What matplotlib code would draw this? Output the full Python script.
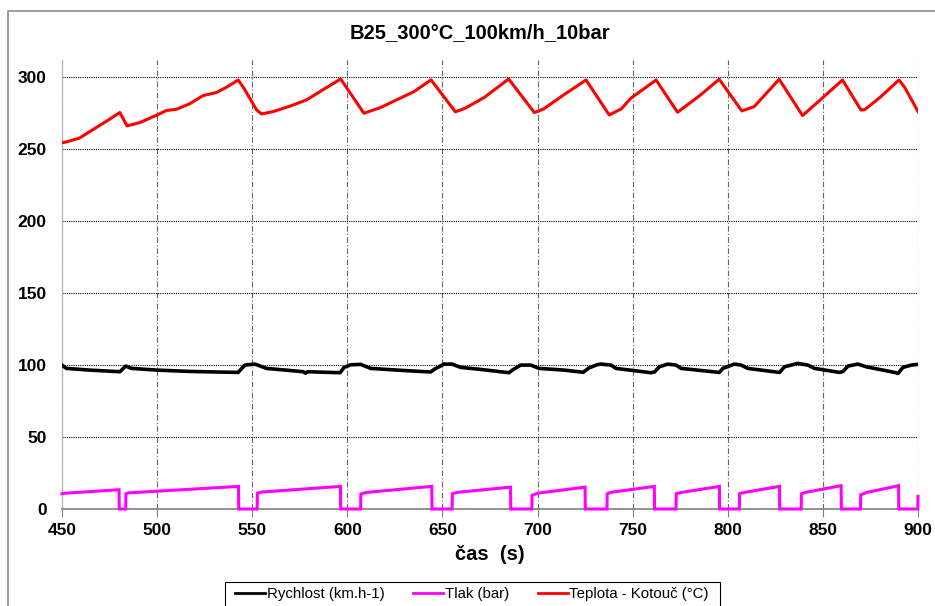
import numpy as np
import matplotlib
matplotlib.use('Agg')
import matplotlib.pyplot as plt
from matplotlib.patches import Rectangle
from matplotlib.lines import Line2D

plt.rcParams['font.family'] = ['Liberation Sans', 'DejaVu Sans']

# Teplota - Kotouč (°C)
t_teplota = [450, 452, 459, 466, 474, 480.4, 484.2, 490.9, 500, 504.9, 510.2, 517, 524.2,
             531.2, 536.5, 542.6, 545.3, 552.3, 554.9, 561.1, 570, 578.6, 588, 596.5,
             608.7, 617.5, 627, 635, 644, 656.8, 662, 672, 684.8, 698.3, 703, 714,
             725.5, 737.7, 744, 749, 762.3, 773.6, 785, 795.5, 807.4, 813.9, 827,
             839.3, 849, 852.5, 860.3, 870, 872, 880, 890, 893, 900]
teplota = [254.5, 255, 257.6, 263.4, 270, 275.5, 266.2, 268.5, 273.8, 276.9, 277.8, 281.5, 287.3,
           289.4, 293.1, 298.1, 293.1, 277.3, 274.5, 276.2, 280, 284.3, 292, 298.8,
           275, 279, 285, 290, 298.2, 276, 278.5, 286, 298.8, 275.5, 277.8, 288,
           298.1, 273.8, 278, 285.4, 298.1, 275.7, 287, 298.6, 276.6, 279.6, 298.6,
           273.4, 284.7, 288.9, 298.1, 277.3, 277.5, 286, 298.1, 293, 276.2]

# Rychlost (km.h-1)
t_rychlost = [450, 452.3, 464.6, 480.4, 483.5, 486.5, 500, 517, 542.6, 546.1, 551.4, 557.5,
              576.8, 578, 579, 596.2, 598.3, 601.8, 607, 612.3, 626.3, 643.8, 645.6, 650.8,
              655.1, 659.5, 670, 685, 686.7, 691.1, 696.4, 700.8, 714, 724, 727, 731.4,
              733.3, 738.6, 741.2, 759.6, 761.5, 764, 768.4, 772.8, 775.4, 795.6, 797.4,
              803.5, 807, 810.5, 827.2, 829.8, 836.8, 842.1, 845.6, 858.8, 860.5, 863.2,
              868.4, 872.8, 887.7, 889.5, 892.1, 896.5, 900]
rychlost = [100, 97.7, 96.5, 95.4, 99.3, 97.7, 96.5, 95.6, 94.9, 100, 100.7, 97.7,
            95.4, 94.3, 95.4, 94.7, 98.4, 100.2, 100.5, 97.7, 96.5, 95.2, 97, 100.7,
            100.7, 98.4, 97, 94.7, 96.5, 100, 100, 97.7, 96.5, 95, 98, 100.3,
            100.7, 100, 97.7, 94.7, 95.2, 98.8, 100.7, 100, 97.7, 94.9, 97.7,
            100.7, 100, 97.7, 94.9, 98.8, 101.2, 100, 97.7, 94.9, 95.5, 99.3,
            100.7, 98.8, 94.9, 94.2, 98.4, 100, 100.5]

# Tlak (bar)
t_tlak = [450, 452, 480, 480.1, 483.5, 483.6, 485, 542.8, 542.9, 552.6, 552.7, 555,
          596.4, 596.5, 607, 607.1, 610, 644.4, 644.5, 655.1, 655.2, 658, 685.8, 685.9,
          697, 697.1, 700, 725, 725.1, 736.5, 736.6, 739, 761.4, 761.5, 772.8, 772.9,
          776, 795.6, 795.7, 806.1, 806.2, 809, 827.2, 827.3, 838.6, 838.7, 841, 859.6,
          859.7, 869.8, 869.9, 873, 889.8, 889.9, 899.9, 900]
tlak = [10.6, 11, 13.4, 0, 0, 10.6, 11.2, 15.7, 0, 0, 10.9, 11.8,
        15.7, 0, 0, 10.4, 11.5, 15.7, 0, 0, 10.6, 11.6, 15.2, 0,
        0, 9.5, 11, 15.2, 0, 0, 10.6, 11.7, 15.7, 0, 0, 10.6,
        11.6, 15.7, 0, 0, 10.6, 11.6, 15.7, 0, 0, 10.6, 11.6, 16.2,
        0, 0, 9.9, 11.5, 16.2, 0, 0, 8.8]

W, H = 935, 606
fig = plt.figure(figsize=(W / 100, H / 100), dpi=100)
ax = fig.add_axes([62 / W, 1 - 509 / H, (918 - 62) / W, (509 - 60) / H])

ax.plot(t_rychlost, rychlost, color='black', lw=2.6, solid_joinstyle='round', zorder=3)
ax.plot(t_tlak, tlak, color='#ff00ff', lw=2.2, solid_joinstyle='miter', zorder=3, clip_on=False)
ax.plot(t_teplota, teplota, color='#ff0000', lw=2.2, solid_joinstyle='round', zorder=3)

ax.set_xlim(450, 900)
ax.set_ylim(0, 312)
ax.set_xticks(np.arange(450, 901, 50))
ax.set_yticks(np.arange(0, 301, 50))

# grid: dotted black horizontals, dashed grey verticals
ax.grid(axis='y', color='black', linestyle=(0, (1, 1)), lw=0.8)
ax.grid(axis='x', color='#666666', linestyle=(0, (5, 2, 1, 2)), lw=0.8)
ax.set_axisbelow(True)

for s in ['top', 'right']:
    ax.spines[s].set_visible(False)
ax.spines['left'].set_color('#b0b0b0')
ax.spines['bottom'].set_color('#808080')
ax.spines['bottom'].set_linewidth(1.2)

ax.tick_params(axis='x', length=6, color='#808080', labelsize=12.5, pad=4)
ax.tick_params(axis='y', length=0, labelsize=12.5, pad=11)
for lbl in ax.get_xticklabels() + ax.get_yticklabels():
    lbl.set_fontweight('bold')

ax.set_xlabel('čas  (s)', fontsize=14.5, fontweight='bold', labelpad=5)
fig.text(480 / W, 1 - 33 / H, 'B25_300°C_100km/h_10bar', ha='center', va='center',
         fontsize=14.5, fontweight='bold')

# chart frame and legend box
fig.patches.append(Rectangle((8 / W, -0.1), 1.1, 1 - 11 / H + 0.1, transform=fig.transFigure,
                             fill=False, edgecolor='#8c8c8c', lw=1.2))
fig.patches.append(Rectangle((225 / W, -0.1), (720 - 225) / W, 1 - 582 / H + 0.1,
                             transform=fig.transFigure, fill=False, edgecolor='black', lw=0.8))

handles = [Line2D([], [], color='black', lw=2),
           Line2D([], [], color='#ff00ff', lw=2),
           Line2D([], [], color='#ff0000', lw=2)]
fig.legend(handles, ['Rychlost (km.h-1)', 'Tlak (bar)', 'Teplota - Kotouč (°C)'],
           loc='center', bbox_to_anchor=(472 / W, 1 - 594 / H), ncol=3, frameon=False,
           fontsize=10.8, handlelength=2.0, handletextpad=0.1, columnspacing=1.9)

fig.savefig('out.png', dpi=100)
